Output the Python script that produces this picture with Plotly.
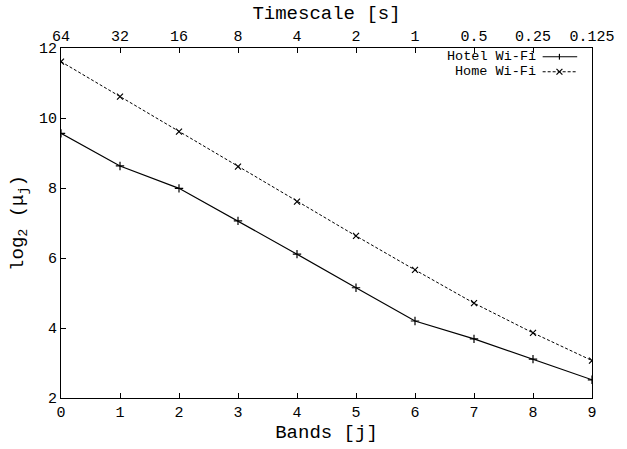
import plotly.graph_objects as go

bands = [0, 1, 2, 3, 4, 5, 6, 7, 8, 9]
timescale_labels = ["64", "32", "16", "8", "4", "2", "1", "0.5", "0.25", "0.125"]
hotel = [9.56, 8.63, 7.99, 7.06, 6.11, 5.15, 4.20, 3.69, 3.11, 2.52]
home = [11.61, 10.61, 9.61, 8.61, 7.61, 6.63, 5.66, 4.71, 3.86, 3.07]
series_names = ["Hotel Wi-Fi", "Home Wi-Fi"]

FONT = "Liberation Mono, Courier New, monospace"
W, H = 627, 449
L, R, T, B = 61, 28, 43, 45
pw, ph = W - L - R, H - T - B

fig = go.Figure()
fig.add_trace(go.Scatter(
    x=bands, y=hotel, mode="lines+markers", name=series_names[0],
    line=dict(color="black", width=1.2),
    marker=dict(symbol="cross-thin", size=6, line=dict(color="black", width=1.2)),
    showlegend=False))
fig.add_trace(go.Scatter(
    x=bands, y=home, mode="lines+markers", name=series_names[1],
    line=dict(color="black", width=1.0, dash="3px,2px"),
    marker=dict(symbol="x-thin", size=6, line=dict(color="black", width=1.2)),
    showlegend=False))
# invisible trace to activate top axis
fig.add_trace(go.Scatter(x=bands, y=home, xaxis="x2", mode="markers",
                         marker=dict(opacity=0), showlegend=False, hoverinfo="skip"))

fig.update_layout(
    width=W, height=H,
    margin=dict(l=L, r=R, t=T, b=B),
    paper_bgcolor="white", plot_bgcolor="white",
    font=dict(family=FONT, color="black", size=15),
    xaxis=dict(range=[0, 9], tickvals=bands, ticktext=[str(b) for b in bands],
               ticks="inside", ticklen=5, tickcolor="black",
               showline=True, linecolor="black", linewidth=1.2,
               showgrid=False, zeroline=False,
               tickfont=dict(family=FONT, size=15),
               title=dict(text="Bands [j]", font=dict(family=FONT, size=19), standoff=2)),
    xaxis2=dict(range=[0, 9], overlaying="x", side="top",
                tickvals=bands, ticktext=timescale_labels,
                ticks="inside", ticklen=5, tickcolor="black",
                showline=True, linecolor="black", linewidth=1.2,
                showgrid=False, zeroline=False,
                tickfont=dict(family=FONT, size=15),
                title=dict(text="Timescale [s]", font=dict(family=FONT, size=19), standoff=4)),
    yaxis=dict(range=[2, 12], tickvals=[2, 4, 6, 8, 10, 12],
               ticks="inside", ticklen=5, tickcolor="black",
               showline=True, linecolor="black", linewidth=1.2, mirror=True,
               showgrid=False, zeroline=False,
               tickfont=dict(family=FONT, size=15),
               title=dict(text="log<sub>2</sub> (μ<sub>j</sub>)",
                          font=dict(family=FONT, size=19), standoff=10)),
)

# manual legend (text, then line sample, as in reference)
def px2x(p):
    return (p - L) / pw

def py2y(p):
    return (H - B - p) / ph

rows = [52.0, 67.5]
dashes = ["solid", "3px,2px"]
for i, (name, py) in enumerate(zip(series_names, rows)):
    yy = py2y(py)
    fig.add_annotation(xref="paper", yref="paper", x=px2x(543), y=yy,
                       xanchor="right", yanchor="middle", showarrow=False,
                       text=name, font=dict(family=FONT, size=13.5),
                       borderpad=0)
    fig.add_shape(type="line", xref="paper", yref="paper",
                  x0=px2x(549), x1=px2x(584), y0=yy, y1=yy,
                  line=dict(color="black", width=1.2 if i == 0 else 1.0, dash=dashes[i]))
    mx = px2x(566)
    dx, dy = 3 / pw, 3 / ph
    if i == 0:
        fig.add_shape(type="line", xref="paper", yref="paper",
                      x0=mx, x1=mx, y0=yy - dy, y1=yy + dy,
                      line=dict(color="black", width=1.2))
    else:
        fig.add_shape(type="line", xref="paper", yref="paper",
                      x0=mx - dx, x1=mx + dx, y0=yy - dy, y1=yy + dy,
                      line=dict(color="black", width=1.2))
        fig.add_shape(type="line", xref="paper", yref="paper",
                      x0=mx - dx, x1=mx + dx, y0=yy + dy, y1=yy - dy,
                      line=dict(color="black", width=1.2))

fig.write_html("out.html")
